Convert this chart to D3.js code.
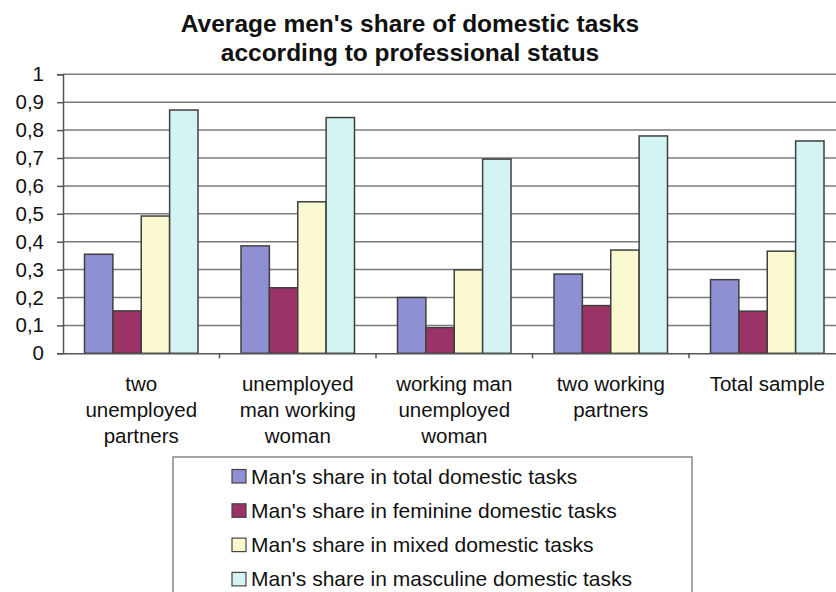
<!DOCTYPE html>
<html>
<head>
<meta charset="utf-8">
<script src="https://cdn.jsdelivr.net/npm/d3@7"></script>
<style>
  html, body { margin: 0; padding: 0; background: #fff; overflow: hidden; }
  svg { display: block; font-family: "Liberation Sans", Arial, sans-serif; }
</style>
</head>
<body>
<svg id="chart" width="836" height="592"></svg>
<script>
const titleLines = ["Average men's share of domestic tasks", "according to professional status"];
const categories = [
  ["two", "unemployed", "partners"],
  ["unemployed", "man working", "woman"],
  ["working man", "unemployed", "woman"],
  ["two working", "partners"],
  ["Total sample"]
];
const seriesNames = [
  "Man's share in total domestic tasks",
  "Man's share in feminine domestic tasks",
  "Man's share in mixed domestic tasks",
  "Man's share in masculine domestic tasks"
];
const seriesColors = ["#8f8fd3", "#9b3366", "#fbf9d0", "#d4f4f4"];
const totalTasks     = [0.355, 0.385, 0.200, 0.284, 0.264];
const feminineTasks  = [0.152, 0.235, 0.092, 0.171, 0.151];
const mixedTasks     = [0.492, 0.543, 0.299, 0.370, 0.366];
const masculineTasks = [0.872, 0.845, 0.696, 0.779, 0.761];
const yTicks = [0, 0.1, 0.2, 0.3, 0.4, 0.5, 0.6, 0.7, 0.8, 0.9, 1];

const seriesValues = [totalTasks, feminineTasks, mixedTasks, masculineTasks];
const svg = d3.select("#chart");

const plotLeft = 63, plotRight = 845.5, plotTop = 74.3, plotBottom = 353.3;
const catKeys = categories.map((c, i) => i);
const x0 = d3.scaleBand().domain(catKeys).range([plotLeft, plotRight]).paddingInner(0).paddingOuter(0);
const groupPad = 21.5;
const x1 = d3.scaleBand().domain(d3.range(seriesNames.length))
  .range([groupPad, x0.bandwidth() - groupPad]).padding(0);
const y = d3.scaleLinear().domain([0, 1]).range([plotBottom, plotTop]);

// gridlines
svg.append("g").selectAll("line").data(yTicks.filter(t => t > 0)).join("line")
  .attr("x1", plotLeft).attr("x2", plotRight)
  .attr("y1", d => y(d)).attr("y2", d => y(d))
  .attr("stroke", "#7a7a7a").attr("stroke-width", 1.5);

// bars
const groups = svg.append("g").selectAll("g").data(catKeys).join("g")
  .attr("transform", d => `translate(${x0(d)},0)`);
groups.selectAll("rect")
  .data(ci => seriesValues.map((vals, si) => ({ si, v: vals[ci] })))
  .join("rect")
  .attr("x", d => x1(d.si))
  .attr("width", x1.bandwidth())
  .attr("y", d => y(d.v))
  .attr("height", d => y(0) - y(d.v))
  .attr("fill", d => seriesColors[d.si])
  .attr("stroke", "#3f3f3f").attr("stroke-width", 1.5);

// y axis
const yAxis = d3.axisLeft(y).tickValues(yTicks).tickSize(6).tickPadding(13)
  .tickFormat(d => d3.format(".1~f")(d).replace(".", ","));
const ya = svg.append("g").attr("transform", `translate(${plotLeft},0)`).call(yAxis);
ya.select(".domain").attr("stroke", "#555").attr("stroke-width", 1.5);
ya.selectAll(".tick line").attr("stroke", "#555").attr("stroke-width", 1.5);
ya.selectAll(".tick text").attr("font-size", "20.5px").attr("fill", "#111")
  .attr("font-family", "'Liberation Sans', Arial, sans-serif");

// x axis
const xAxis = d3.axisBottom(x0).tickValues([]).tickSizeOuter(0);
const xa = svg.append("g").attr("transform", `translate(0,${plotBottom})`).call(xAxis);
xa.select(".domain").attr("stroke", "#555").attr("stroke-width", 1.5);
xa.selectAll("line.bound").data(catKeys.slice(1)).join("line").attr("class", "bound")
  .attr("x1", d => x0(d)).attr("x2", d => x0(d))
  .attr("y1", 0).attr("y2", 5).attr("stroke", "#555").attr("stroke-width", 1.5);

// category labels
const lineBase = [391, 417, 443];
svg.append("g").selectAll("text").data(catKeys).join("text")
  .attr("text-anchor", "middle").attr("font-size", "20.5px").attr("fill", "#111")
  .attr("x", d => x0(d) + x0.bandwidth() / 2)
  .each(function(d) {
    const t = d3.select(this);
    categories[d].forEach((ln, i) => {
      t.append("tspan").attr("x", x0(d) + x0.bandwidth() / 2).attr("y", lineBase[i]).text(ln);
    });
  });

// title
svg.append("g").selectAll("text").data(titleLines).join("text")
  .attr("x", 410).attr("y", (d, i) => 31.5 + i * 29)
  .attr("text-anchor", "middle").attr("font-size", "24.5px").attr("font-weight", "bold")
  .attr("fill", "#111").text(d => d);

// legend
const lg = svg.append("g");
lg.append("rect").attr("x", 173).attr("y", 457).attr("width", 519).attr("height", 150)
  .attr("fill", "#fff").attr("stroke", "#888").attr("stroke-width", 1.5);
const items = lg.selectAll("g.item").data(seriesNames).join("g").attr("class", "item")
  .attr("transform", (d, i) => `translate(0,${i * 34.3})`);
items.append("rect").attr("x", 232).attr("y", 469.5).attr("width", 14).attr("height", 13.5)
  .attr("fill", (d, i) => seriesColors[i]).attr("stroke", "#444").attr("stroke-width", 1.2);
items.append("text").attr("x", 251).attr("y", 483.5).attr("font-size", "21px")
  .attr("fill", "#111").text(d => d);
</script>
</body>
</html>
